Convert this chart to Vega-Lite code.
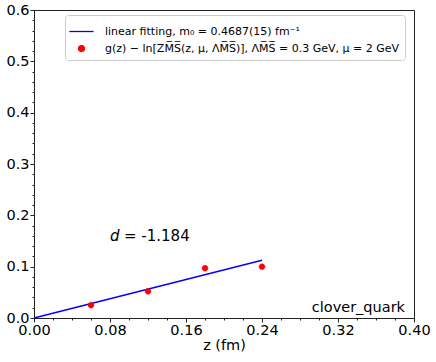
{
  "$schema": "https://vega.github.io/schema/vega-lite/v6.json",
  "width": 380,
  "height": 308,
  "autosize": {"type": "none"},
  "padding": {"left": 34, "top": 10, "right": 22, "bottom": 44},
  "background": "white",
  "config": {
    "font": "DejaVu Sans",
    "view": {"stroke": "#222222", "strokeWidth": 1},
    "axis": {
      "grid": false,
      "domain": false,
      "tickColor": "#222222",
      "labelColor": "#000000",
      "titleColor": "#000000",
      "labelFont": "DejaVu Sans",
      "titleFont": "DejaVu Sans",
      "labelFontSize": 14.5,
      "titleFontSize": 14.5,
      "titleFontWeight": "normal",
      "tickSize": 4,
      "labelPadding": 1
    }
  },
  "datasets": {
    "points": [
      {"z": 0.06, "v": 0.025, "series": "data"},
      {"z": 0.12, "v": 0.052, "series": "data"},
      {"z": 0.18, "v": 0.097, "series": "data"},
      {"z": 0.24, "v": 0.100, "series": "data"}
    ],
    "fit": [
      {"z": 0.0, "v": 0.0},
      {"z": 0.24, "v": 0.1125}
    ],
    "anno": [{"label": "note"}]
  },
  "resolve": {"axis": {"x": "independent", "y": "independent"}},
  "layer": [
    {
      "data": {"name": "fit"},
      "mark": {"type": "line", "color": "#0000ff", "strokeWidth": 1.3},
      "encoding": {
        "x": {"field": "z", "type": "quantitative",
          "scale": {"domain": [0, 0.4], "nice": false, "zero": false},
          "axis": {"values": [0, 0.08, 0.16, 0.24, 0.32, 0.4], "format": ".2f", "title": "z (fm)", "labelOverlap": false, "labelFlush": false, "titlePadding": 2, "orient": "bottom"}},
        "y": {"field": "v", "type": "quantitative",
          "scale": {"domain": [0, 0.6], "nice": false},
          "axis": {"values": [0, 0.1, 0.2, 0.3, 0.4, 0.5, 0.6], "format": ".1f", "title": null, "labelOverlap": false, "labelFlush": false, "orient": "left"}}
      }
    },
    {
      "data": {"name": "points"},
      "mark": {"type": "point", "filled": true, "size": 441, "strokeWidth": 0.5, "opacity": 1},
      "encoding": {
        "x": {"field": "z", "type": "quantitative",
          "axis": {"values": [0.02, 0.04, 0.06, 0.1, 0.12, 0.14, 0.18, 0.2, 0.22, 0.26, 0.28, 0.3, 0.34, 0.36, 0.38], "labels": false, "tickSize": 2, "title": null, "orient": "bottom"}},
        "y": {"field": "v", "type": "quantitative",
          "axis": {"values": [0.02, 0.04, 0.06, 0.08, 0.12, 0.14, 0.16, 0.18, 0.22, 0.24, 0.26, 0.28, 0.32, 0.34, 0.36, 0.38, 0.42, 0.44, 0.46, 0.48, 0.52, 0.54, 0.56, 0.58], "labels": false, "tickSize": 2, "title": null, "orient": "left"}},
        "color": {"field": "series", "type": "nominal",
          "scale": {"domain": ["fit", "data"], "range": ["#0000ff", "#ff0000"]},
          "legend": {
            "orient": "none", "legendX": 31, "legendY": 5, "title": null,
            "labelExpr": "datum.label == 'fit' ? 'linear fitting, m₀ = 0.4687(15) fm⁻¹' : 'g(z) − ln[ZM̅S̅(z, μ, ΛM̅S̅)], ΛM̅S̅ = 0.3 GeV, μ = 2 GeV'",
            "strokeColor": "#cccccc", "fillColor": "#ffffff", "cornerRadius": 3, "padding": 5,
            "labelFontSize": 11, "labelFont": "DejaVu Sans", "labelColor": "#000000", "labelLimit": 0,
            "rowPadding": 0, "symbolSize": 441, "symbolStrokeWidth": 1.3, "labelOffset": 12, "symbolOpacity": 1
          }},
        "shape": {"field": "series", "type": "nominal",
          "scale": {"domain": ["fit", "data"], "range": ["M-1.15,0H1.15", "M-0.28,0A0.28,0.28 0 1,0 0.28,0A0.28,0.28 0 1,0 -0.28,0Z"]}},
        "stroke": {"field": "series", "type": "nominal",
          "scale": {"domain": ["fit", "data"], "range": ["#0000ff", "#ff0000"]}}
      }
    },
    {
      "data": {"name": "anno"},
      "mark": {"type": "text", "text": "d", "fontStyle": "italic", "fontSize": 15, "align": "left", "baseline": "middle", "color": "#000000"},
      "encoding": {
        "x": {"datum": 0.08, "type": "quantitative", "axis": null},
        "y": {"datum": 0.16, "type": "quantitative", "axis": null}
      }
    },
    {
      "data": {"name": "anno"},
      "mark": {"type": "text", "text": "= -1.184", "fontSize": 15, "align": "left", "baseline": "middle", "dx": 14, "color": "#000000"},
      "encoding": {
        "x": {"datum": 0.08, "type": "quantitative", "axis": null},
        "y": {"datum": 0.16, "type": "quantitative", "axis": null}
      }
    },
    {
      "data": {"name": "anno"},
      "mark": {"type": "text", "text": "clover_quark", "fontSize": 14.5, "align": "right", "baseline": "bottom", "dx": -9, "dy": -3, "color": "#000000"},
      "encoding": {
        "x": {"datum": 0.4, "type": "quantitative", "axis": null},
        "y": {"datum": 0, "type": "quantitative", "axis": null}
      }
    }
  ]
}
